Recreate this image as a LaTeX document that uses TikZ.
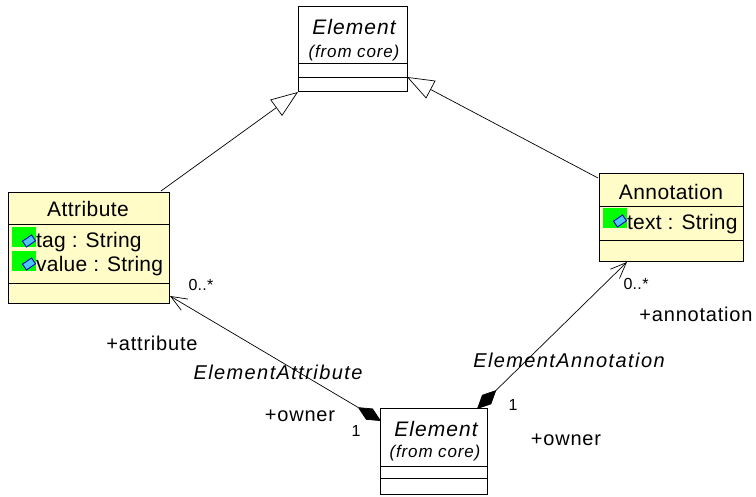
\documentclass[tikz,border=0pt]{standalone}
\usepackage{fontspec}
\setmainfont{Liberation Sans}
\usetikzlibrary{arrows.meta}

\begin{document}
\begin{tikzpicture}[x=1pt, y=-1pt,
    cls/.style={draw, line width=1pt, inner sep=0pt, outer sep=0pt, anchor=north west},
    yellowcls/.style={cls, fill=yellow!22},
    whitecls/.style={cls, fill=white},
    sep/.style={line width=0.8pt},
    nametxt/.style={font=\fontsize{21}{24}\selectfont\addfontfeature{LetterSpace=2}, inner sep=0pt},
    elemtxt/.style={font=\fontsize{21}{24}\selectfont\itshape\addfontfeature{LetterSpace=5}, inner sep=0pt},
    fromtxt/.style={font=\fontsize{17}{20}\selectfont\itshape\addfontfeature{LetterSpace=5}, inner sep=0pt},
    attrtxt/.style={font=\fontsize{21}{24}\selectfont\addfontfeature{LetterSpace=1}, inner sep=0pt, anchor=west},
    roletxt/.style={font=\fontsize{20}{24}\selectfont\addfontfeature{LetterSpace=4}, inner sep=0pt},
    assoctxt/.style={font=\fontsize{20}{24}\selectfont\itshape\addfontfeature{LetterSpace=7}, inner sep=0pt},
    multtxt/.style={font=\fontsize{16}{18}\selectfont\addfontfeature{LetterSpace=2}, inner sep=0pt},
    greenbox/.style={fill=green, inner sep=0pt, minimum width=24pt, minimum height=20pt, anchor=north west},
    attricon/.style={rectangle, rotate=34, draw=blue!80!black, fill=cyan!70, line width=0.9pt, inner sep=0pt,
      minimum width=11pt, minimum height=7pt},
    gen/.style={-{Triangle[open,fill=white,length=27pt,width=20pt]}, line width=0.7pt},
    assoc/.style={{Straight Barb[length=16pt,width=13pt,line width=0.7pt]}-{Diamond[length=27pt,width=13pt]}, line width=0.7pt}]
  \path[use as bounding box, fill=white] (0,0) rectangle (756,497);

  % classes
  \node[whitecls, minimum width=109pt, minimum height=85pt] (top) at (298,7) {};
  \node[yellowcls, minimum width=161pt, minimum height=111pt] (attr) at (8,193) {};
  \node[yellowcls, minimum width=144pt, minimum height=88pt] (anno) at (599,174) {};
  \node[whitecls, minimum width=107pt, minimum height=85pt] (bot) at (380,409) {};

  \draw[sep] (top.west |- 0,63) coordinate (topA) -- (top.east |- 0,63);
  \draw[sep] (top.west |- 0,77) -- (top.east |- 0,77) coordinate (topB);
  \draw[sep] (attr.west |- 0,224) -- (attr.east |- 0,224);
  \draw[sep] (attr.west |- 0,283) -- (attr.east |- 0,283);
  \draw[sep] (anno.west |- 0,206) -- (anno.east |- 0,206);
  \draw[sep] (anno.west |- 0,240) -- (anno.east |- 0,240);
  \draw[sep] (bot.west |- 0,466) -- (bot.east |- 0,466);
  \draw[sep] (bot.west |- 0,478) -- (bot.east |- 0,478);

  \node[elemtxt] (topname) at (354,27) {Element};
  \node[fromtxt] (topfrom) at (354,53) {(from core)};
  \node[elemtxt] (botname) at (436,429) {Element};
  \node[fromtxt] (botfrom) at (435,453) {(from core)};
  \node[nametxt] (attrname) at (88,209) {Attribute};
  \node[nametxt] (annoname) at (671,192) {Annotation};

  % attributes
  \node[greenbox] (tagmark) at (12,227) {};
  \node[greenbox] (valmark) at (12,251) {};
  \node[greenbox] (textmark) at (603,208) {};
  \node[attricon] (tagicon) at (29,241) {};
  \node[attricon] (valicon) at (29,264) {};
  \node[attricon] (texticon) at (620,221) {};
  \node[attrtxt] (tagtxt) at (36,242) {tag : String};
  \node[attrtxt] (valtxt) at (36,266) {value : String};
  \node[attrtxt] (texttxt) at (627,224) {text : String};

  % connectors
  \coordinate (attrtop) at (161,191);
  \coordinate (annotop) at (598,178);
  \coordinate (attrtip) at (170,296);
  \coordinate (annotip) at (627,262);
  \coordinate (botleft) at (381,421);
  \coordinate (botright) at (477,409);
  \draw[gen] (attrtop) -- (top.south west);
  \draw[gen] (annotop) -- (topB);
  \draw[assoc] (attrtip) -- (botleft);
  \draw[assoc] (annotip) -- (botright);

  % labels
  \node[multtxt] (attrmult) at (201,285) {0..*};
  \node[roletxt] (attrrole) at (152,343) {+attribute};
  \node[assoctxt] (attrassoc) at (278,372) {ElementAttribute};
  \node[roletxt] (ownerleft) at (300,416) {+owner};
  \node[multtxt] (oneleft) at (356,431) {1};
  \node[assoctxt] (annoassoc) at (569,360) {ElementAnnotation};
  \node[multtxt] (oneright) at (513,405) {1};
  \node[roletxt] (ownerright) at (566,440) {+owner};
  \node[multtxt] (annomult) at (636,284) {0..*};
  \node[roletxt] (annorole) at (696,314) {+annotation};
\end{tikzpicture}
\end{document}
